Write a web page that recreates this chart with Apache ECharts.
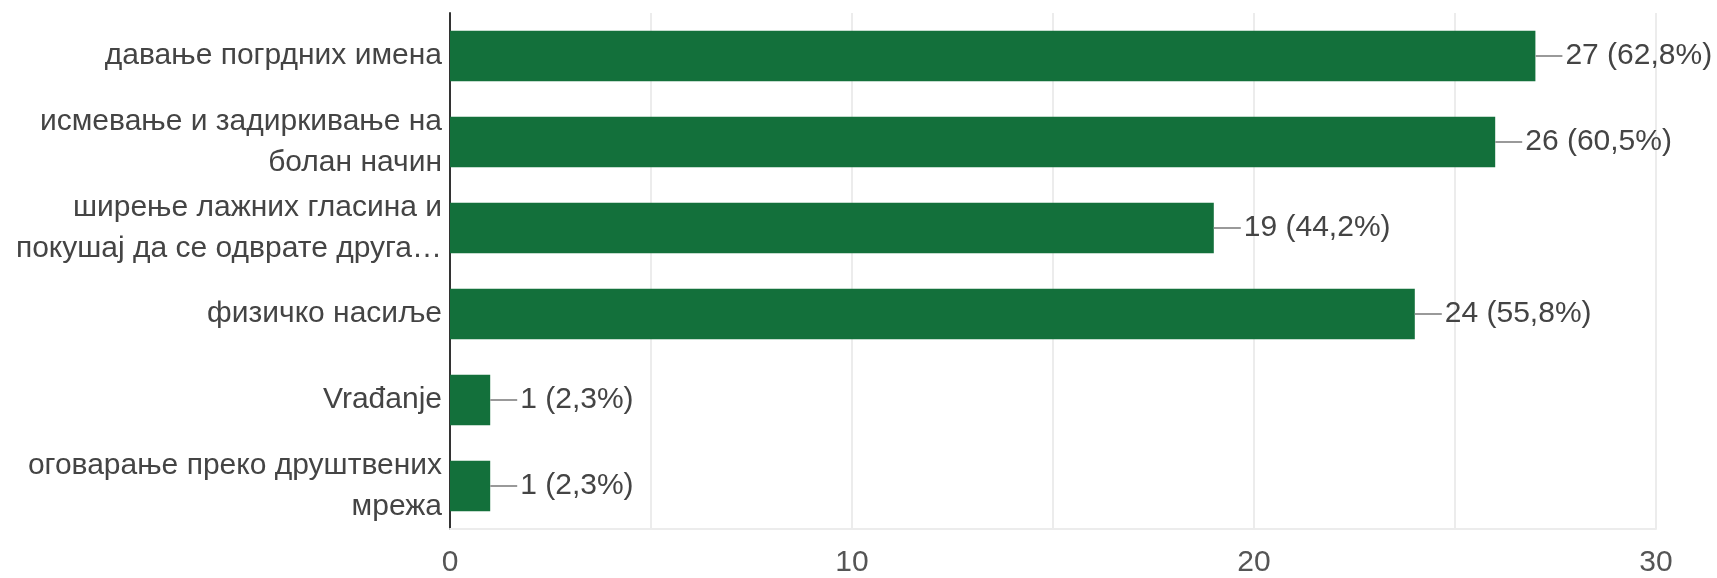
<!DOCTYPE html>
<html>
<head>
<meta charset="utf-8">
<script src="https://cdn.jsdelivr.net/npm/echarts@6/dist/echarts.min.js"></script>
<style>
html,body{margin:0;padding:0;background:#fff;}
#chart{width:1717px;height:578px;}
</style>
</head>
<body>
<div id="chart"></div>
<script>
const categories = [
  'давање погрдних имена',
  'исмевање и задиркивање на\nболан начин',
  'ширење лажних гласина и\nпокушај да се одврате друга…',
  'физичко насиље',
  'Vrađanje',
  'оговарање преко друштвених\nмрежа'
];
const counts = [27, 26, 19, 24, 1, 1];
const percents = ['62,8%', '60,5%', '44,2%', '55,8%', '2,3%', '2,3%'];
const xTicks = [0, 10, 20, 30];

const chart = echarts.init(document.getElementById('chart'), null, {renderer: 'canvas'});
const FONT = 'Arial, "Liberation Sans", sans-serif';
chart.setOption({
  animation: false,
  backgroundColor: '#fff',
  grid: {left: 450, right: 61, top: 13, bottom: 47, containLabel: false},
  xAxis: {
    type: 'value', min: 0, max: 30, interval: 5,
    axisLine: {show: true, lineStyle: {color: '#ececec', width: 2}},
    axisTick: {show: false},
    splitLine: {show: true, lineStyle: {color: '#ececec', width: 2}},
    axisLabel: {
      margin: 19, fontSize: 30, color: '#555', fontFamily: FONT,
      formatter: v => (xTicks.indexOf(v) >= 0 ? String(v) : '')
    }
  },
  yAxis: {
    type: 'category', data: categories, inverse: true,
    axisLine: {show: true, lineStyle: {color: '#333', width: 2}},
    axisTick: {show: false},
    axisLabel: {margin: 8, fontSize: 30, lineHeight: 41, color: '#444', fontFamily: FONT, align: 'right'}
  },
  series: [{
    type: 'bar',
    data: counts,
    barWidth: '59%',
    itemStyle: {color: '#13703b'},
    label: {
      show: true, position: 'right', distance: 0,
      formatter: p => '{l|}{t|' + counts[p.dataIndex] + ' (' + percents[p.dataIndex] + ')}',
      rich: {
        l: {width: 27, height: 2, backgroundColor: '#999', verticalAlign: 'middle'},
        t: {fontSize: 30, color: '#444', fontFamily: FONT, padding: [0, 0, 0, 3], verticalAlign: 'middle'}
      }
    }
  }]
});
</script>
</body>
</html>
